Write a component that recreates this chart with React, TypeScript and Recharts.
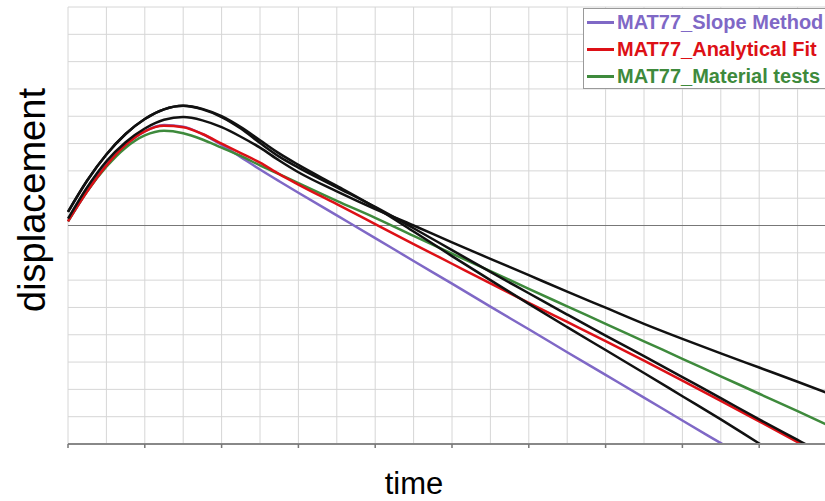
import React from "react";
import { LineChart, Line, XAxis, YAxis, CartesianGrid, ReferenceLine, Legend } from "recharts";

// time samples (grid units)
const times = [0, 0.5, 1, 1.5, 2, 2.5, 3, 3.5, 4, 4.5, 5, 5.5, 6, 7, 8, 9, 10, 11, 12, 13, 14, 15, 16, 17, 18, 19, 20];

const slopeMethod = [0.15, 1.25, 2.2, 2.95, 3.45, 3.68, 3.62, 3.35, 2.95, 2.5, 2.05, 1.62, 1.2, 0.37, -0.46, -1.3, -2.13, -2.97, -3.8, -4.64, -5.47, -6.3, -7.14, -7.97, -8.8, -9.6, -10.4];
const analyticalFit = [0.15, 1.25, 2.2, 2.95, 3.45, 3.65, 3.6, 3.35, 3.0, 2.65, 2.3, 1.88, 1.5, 0.78, 0.05, -0.68, -1.4, -2.12, -2.83, -3.53, -4.23, -4.95, -5.68, -6.42, -7.17, -7.93, -8.7];
const materialTests = [0.15, 1.25, 2.15, 2.85, 3.3, 3.47, 3.38, 3.15, 2.85, 2.55, 2.2, 1.88, 1.55, 0.9, 0.28, -0.38, -1.03, -1.67, -2.32, -2.96, -3.6, -4.24, -4.88, -5.52, -6.16, -6.8, -7.45];
const blackA = [0.25, 1.4, 2.35, 3.05, 3.55, 3.87, 3.97, 3.85, 3.6, 3.25, 2.85, 2.38, 1.95, 1.25, 0.6, 0.0, -0.62, -1.22, -1.82, -2.42, -3.01, -3.6, -4.15, -4.68, -5.2, -5.72, -6.25];
const blackB = [0.5, 1.65, 2.6, 3.35, 3.9, 4.25, 4.38, 4.25, 3.97, 3.55, 3.02, 2.52, 2.12, 1.4, 0.68, -0.1, -0.9, -1.7, -2.48, -3.26, -4.03, -4.78, -5.55, -6.32, -7.1, -7.85, -8.6];
const blackC = [0.5, 1.65, 2.6, 3.35, 3.9, 4.25, 4.38, 4.27, 4.0, 3.6, 3.12, 2.64, 2.22, 1.45, 0.66, -0.22, -1.12, -2.0, -2.87, -3.72, -4.56, -5.4, -6.25, -7.1, -7.98, -8.85, -9.7];

const xTicks = Array.from({ length: 21 }, (_, i) => i);
const yTicks = Array.from({ length: 17 }, (_, i) => i - 8);

const legendItems = [
  { name: "MAT77_Slope Method", color: "#7f68c6" },
  { name: "MAT77_Analytical Fit", color: "#dd1016" },
  { name: "MAT77_Material tests", color: "#3e8a3c" },
];

const data = times.map((t, i) => ({
  t,
  slope: slopeMethod[i],
  fit: analyticalFit[i],
  mat: materialTests[i],
  a: blackA[i],
  b: blackB[i],
  c: blackC[i],
}));

const font = "'Liberation Sans', Arial, sans-serif";

const renderTick = (props: any) => {
  const { x, y, payload } = props;
  if (payload.value % 2 !== 0) return <g />;
  return <line x1={x} x2={x} y1={y - 8} y2={y - 4} stroke="#777" strokeWidth={1.5} />;
};

const renderLegend = () => (
  <div
    style={{
      width: 260,
      height: 81,
      boxSizing: "border-box",
      border: "1px solid #9a9a9a",
      background: "#fff",
      paddingTop: 0,
      fontFamily: font,
      fontWeight: "bold",
      fontSize: 20,
    }}
  >
    {legendItems.map((it) => (
      <div key={it.name} style={{ display: "flex", alignItems: "center", height: 27, color: it.color, whiteSpace: "nowrap" }}>
        <span style={{ display: "inline-block", width: 27, height: 2.5, background: it.color, marginLeft: 3, marginRight: 3 }} />
        {it.name}
      </div>
    ))}
  </div>
);

export default function App() {
  return (
    <div style={{ position: "fixed", left: 0, top: 0, width: 825, height: 501, overflow: "hidden", background: "#fff" }}>
      <LineChart width={840} height={501} data={data} margin={{ top: 7, right: 4, bottom: 37, left: 68 }}>
        <CartesianGrid stroke="#d6d6d6" strokeWidth={1} />
        <XAxis
          dataKey="t"
          type="number"
          domain={[0, 20]}
          ticks={xTicks}
          interval={0}
          height={20}
          tickLine={false}
          tick={renderTick}
          axisLine={{ stroke: "#888", strokeWidth: 2 }}
        />
        <YAxis
          type="number"
          domain={[-8, 8]}
          ticks={yTicks}
          interval={0}
          width={0}
          allowDataOverflow
          tick={() => <g />}
          tickLine={false}
          axisLine={{ stroke: "#999", strokeWidth: 1.5 }}
        />
        <ReferenceLine y={0} stroke="#777" strokeWidth={1} />
        <Line type="monotone" dataKey="slope" stroke="#7f68c6" strokeWidth={2.5} dot={false} isAnimationActive={false} />
        <Line type="monotone" dataKey="mat" stroke="#3e8a3c" strokeWidth={2.5} dot={false} isAnimationActive={false} />
        <Line type="monotone" dataKey="fit" stroke="#dd1016" strokeWidth={2.5} dot={false} isAnimationActive={false} />
        <Line type="monotone" dataKey="a" stroke="#111" strokeWidth={2.5} dot={false} isAnimationActive={false} />
        <Line type="monotone" dataKey="b" stroke="#111" strokeWidth={2.5} dot={false} isAnimationActive={false} />
        <Line type="monotone" dataKey="c" stroke="#111" strokeWidth={2.5} dot={false} isAnimationActive={false} />
        <Legend
          content={renderLegend}
          layout="vertical"
          align="center"
          verticalAlign="middle"
          wrapperStyle={{ position: "absolute", left: 583, top: 8, width: 260 }}
        />
      </LineChart>
      <div
        style={{
          position: "absolute",
          left: 32,
          top: 200,
          transform: "translate(-50%, -50%) rotate(-90deg)",
          fontFamily: font,
          fontSize: 38,
          whiteSpace: "nowrap",
          color: "#000",
        }}
      >
        displacement
      </div>
      <div
        style={{
          position: "absolute",
          left: 414,
          top: 484,
          transform: "translate(-50%, -50%)",
          fontFamily: font,
          fontSize: 31,
          color: "#000",
        }}
      >
        time
      </div>
    </div>
  );
}
